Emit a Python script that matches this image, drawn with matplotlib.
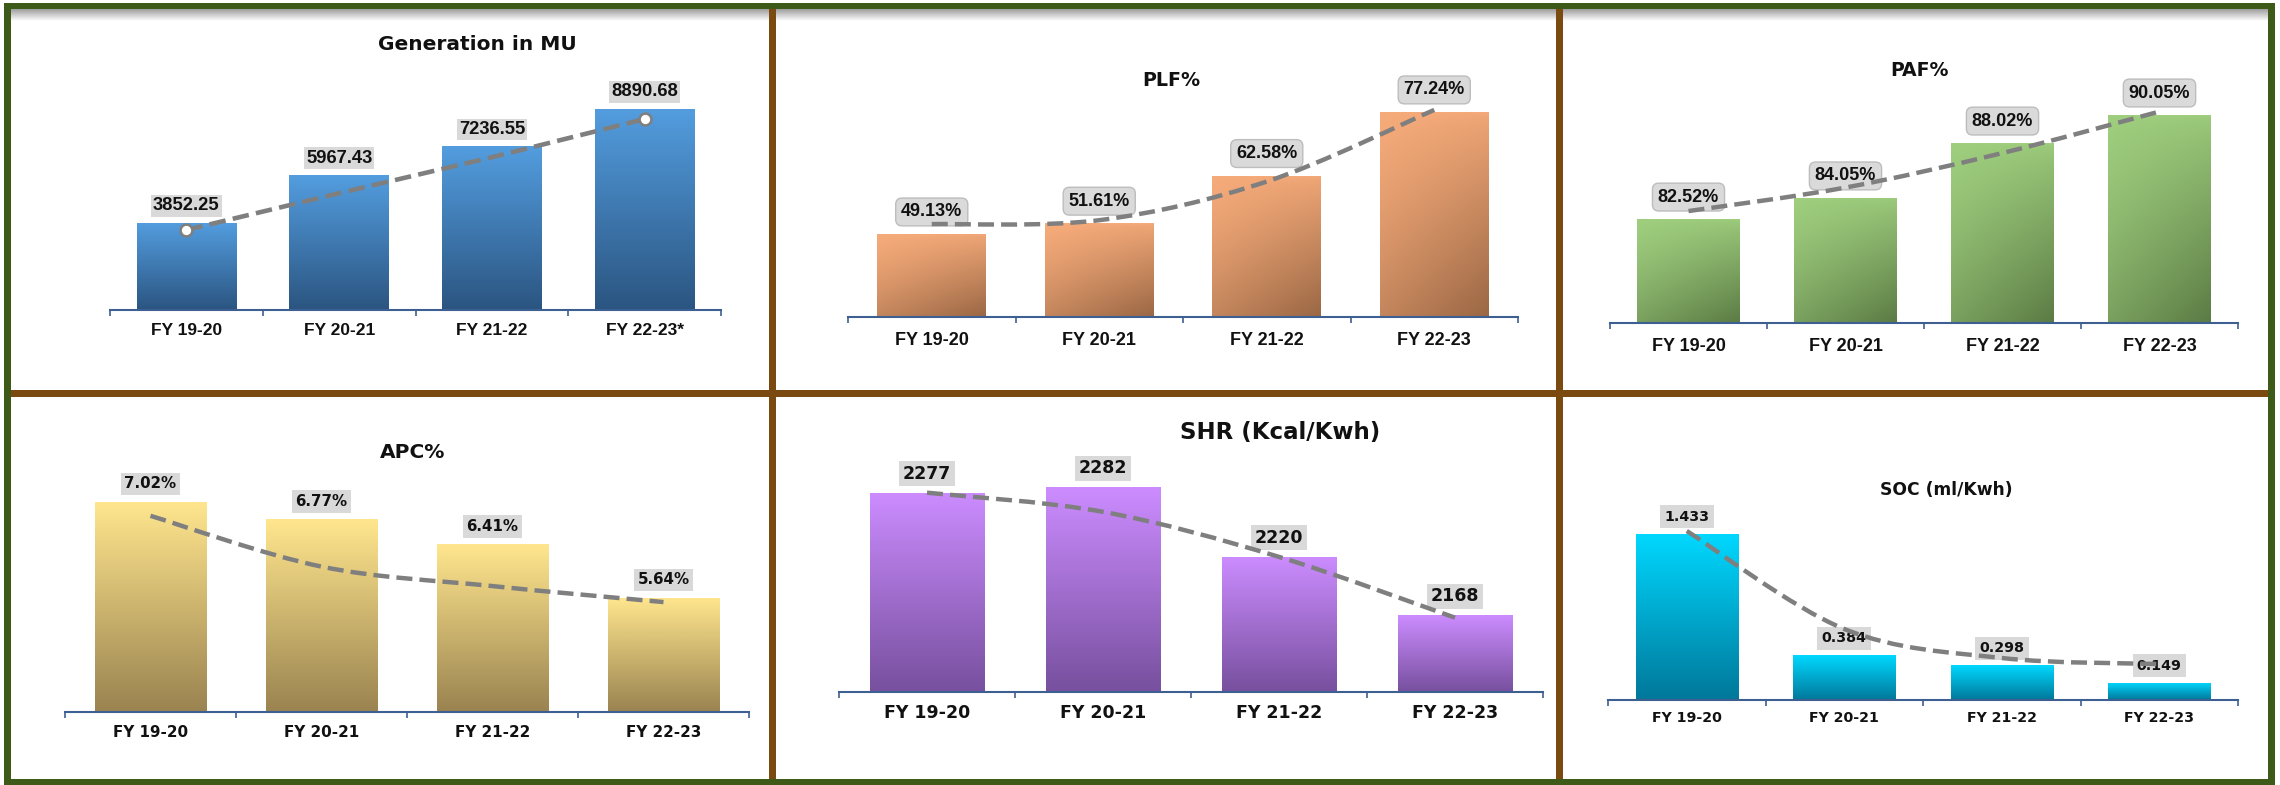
import numpy as np
import matplotlib.pyplot as plt
from matplotlib.path import Path
from matplotlib.patches import PathPatch, Rectangle
from matplotlib.colors import to_rgb

W, H = 2280, 785

# categories
years = ['FY 19-20', 'FY 20-21', 'FY 21-22', 'FY 22-23']
years_gen = ['FY 19-20', 'FY 20-21', 'FY 21-22', 'FY 22-23*']

# bar values and the dashed trend series drawn over them
generation = [3852.25, 5967.43, 7236.55, 8890.68]
generation_trend = [3540, 5165, 6755, 8445]
plf = [49.13, 51.61, 62.58, 77.24]
plf_trend = [51.4, 52.3, 61.2, 77.7]
paf = [82.52, 84.05, 88.02, 90.05]
paf_trend = [83.1, 84.8, 87.3, 90.3]
apc = [7.02, 6.77, 6.41, 5.64]
apc_trend = [6.82, 6.09, 5.81, 5.58]
shr = [2277, 2282, 2220, 2168]
shr_trend = [2277, 2260, 2220, 2166]
soc = [1.433, 0.384, 0.298, 0.149]
soc_trend = [1.457, 0.612, 0.362, 0.31]

NARROW = ['Liberation Sans', 'DejaVu Sans']
DEJA = ['DejaVu Sans']
TITLE = ['DejaVu Sans']
AXIS_COL = '#3e5f91'
LINE_COL = '#7f7f7f'

fig = plt.figure(figsize=(W / 100, H / 100), dpi=100)
fig.patch.set_facecolor('white')


def rect(l, r, t, b):
    return [l / W, 1 - b / H, (r - l) / W, (b - t) / H]


def smooth_path(xs, ys):
    # Catmull-Rom curve through the points, written as cubic Beziers
    pts = np.column_stack([xs, ys]).astype(float)
    ext = np.vstack([pts[0], pts, pts[-1]])
    verts = [pts[0]]
    codes = [Path.MOVETO]
    for i in range(len(pts) - 1):
        p0, p1, p2, p3 = ext[i], ext[i + 1], ext[i + 2], ext[i + 3]
        verts += [p1 + (p2 - p0) / 6, p2 - (p3 - p1) / 6, p2]
        codes += [Path.CURVE4] * 3
    return Path(verts, codes)


def gradient_bar(ax, bar, c_top, c_bot, y0, diagonal):
    n = 120
    tv = np.linspace(0, 1, n)[:, None]
    if diagonal:
        th = np.linspace(0, 1, n)[None, :]
        t = np.clip(0.55 * tv ** 1.3 + 0.45 * th * tv ** 0.5, 0, 1)
    else:
        t = np.repeat(tv, 2, axis=1)
    top = np.array(to_rgb(c_top))
    bot = np.array(to_rgb(c_bot))
    img = top + (bot - top) * t[..., None]
    x, w = bar.get_x(), bar.get_width()
    h_top = bar.get_y() + bar.get_height()
    im = ax.imshow(img, extent=[x, x + w, y0, h_top], origin='upper',
                   aspect='auto', interpolation='bilinear', zorder=2)
    im.set_clip_path(bar)


def panel(vals, trend, cats, title, box, ylim, title_xy, c_top, c_bot,
          fmt, off_px, font, vfs, cfs, tfs, cat_off, diagonal=False,
          rounded=False, pad=0.15, straight=False):
    l, r, t, b = box
    ax = fig.add_axes(rect(l, r, t, b))
    ax.set_facecolor('none')
    x = np.arange(len(vals))
    bars = ax.bar(x, vals, width=0.65, color='none', edgecolor='none')
    for bar in bars:
        gradient_bar(ax, bar, c_top, c_bot, ylim[0], diagonal)

    if straight:
        ax.plot(x, trend, color=LINE_COL, lw=3.3, ls=(0, (3.6, 1.6)),
                dash_capstyle='butt', zorder=6)
        ax.plot([x[0], x[-1]], [trend[0], trend[-1]], 'o', ms=8.5,
                mfc='white', mec=LINE_COL, mew=1.8, zorder=7)
    else:
        ax.add_patch(PathPatch(smooth_path(x, trend), fill=False,
                               ec=LINE_COL, lw=3.2, ls=(0, (3.6, 1.6)),
                               capstyle='butt', zorder=6))

    if rounded:
        bbox = dict(boxstyle=f'round,pad={pad},rounding_size=0.35',
                    fc='#dadada', ec='#bdbdbd', lw=1)
    else:
        bbox = dict(boxstyle=f'square,pad={pad}', fc='#d9d9d9', ec='none')
    for xi, v in zip(x, vals):
        ax.annotate(fmt.format(v), (xi, v), xytext=(0, off_px * 0.72),
                    textcoords='offset points', ha='center', va='center',
                    fontsize=vfs, fontweight='bold', family=font,
                    color='#111111', bbox=bbox, zorder=5)

    ax.set_xlim(-0.5, len(vals) - 0.5)
    ax.set_ylim(*ylim)
    for s in ('left', 'right', 'top'):
        ax.spines[s].set_visible(False)
    ax.spines['bottom'].set_color(AXIS_COL)
    ax.spines['bottom'].set_linewidth(1.5)
    ax.set_yticks([])
    ax.set_xticks(np.arange(len(vals) + 1) - 0.5)
    ax.set_xticklabels([])
    ax.tick_params(axis='x', which='major', length=4.5, width=1.2,
                   color=AXIS_COL)
    ax.set_xticks(x, minor=True)
    ax.set_xticklabels(cats, minor=True, fontsize=cfs, fontweight='bold',
                       family=font, color='#111111')
    ax.tick_params(axis='x', which='minor', length=0,
                   pad=(cat_off - cfs * 0.75) * 0.72)

    fig.text(title_xy[0] / W, 1 - title_xy[1] / H, title, ha='center',
             va='center', fontsize=tfs, fontweight='bold', family=TITLE,
             color='#111111')
    return ax


# frame: outer green border, brown dividers, shadow under the top edge
bg = fig.add_axes([0, 0, 1, 1], zorder=-5)
bg.set_xlim(0, W)
bg.set_ylim(H, 0)
bg.axis('off')
shade = np.linspace(0.62, 1.0, 40)[:, None, None] * np.ones((1, 2, 3))
bg.imshow(shade, extent=[10, 2268, 21, 9], origin='upper', aspect='auto',
          interpolation='bilinear')
green = '#3d5a18'
brown = '#7b4a10'
for (x0, y0, w, h, c) in [(4, 3, 7, 782, green), (4, 3, 2271, 6, green),
                          (2268, 3, 7, 782, green), (4, 779, 2271, 6, green),
                          (769, 9, 7, 770, brown), (1556, 9, 7, 770, brown),
                          (11, 390, 2257, 7, brown)]:
    bg.add_patch(Rectangle((x0, y0), w, h, fc=c, ec='none', zorder=3))
bg.set_xlim(0, W)
bg.set_ylim(H, 0)

panel(generation, generation_trend, years_gen, 'Generation in MU',
      (110, 721, 60, 310), (0, 11057), (477, 45), '#539ddf', '#2b5581',
      '{:.2f}', 17, NARROW, 13.2, 12.5, 14.5, 22, pad=0.12, straight=True)
panel(plf, plf_trend, years, 'PLF%', (848, 1518, 60, 317), (30, 89.2),
      (1171, 80), '#f6ab7a', '#9a6744', '{:.2f}%', 22, NARROW, 13, 13, 13.7,
      25, diagonal=True, rounded=True, pad=0.3)
panel(paf, paf_trend, years, 'PAF%', (1610, 2238, 60, 323), (75, 94.03),
      (1920, 70), '#9fce7e', '#5b7b44', '{:.2f}%', 22, NARROW, 13, 13, 13.6,
      25, diagonal=True, rounded=True, pad=0.3)
panel(apc, apc_trend, years, 'APC%', (65, 749, 440, 712), (4, 7.91),
      (413, 452), '#ffe68e', '#9a8350', '{:.2f}%', 18, DEJA, 10.8, 10.9,
      14.5, 21, pad=0.25)
panel(shr, shr_trend, years, 'SHR (Kcal/Kwh)', (839, 1543, 440, 692),
      (2100, 2323.8), (1280, 433), '#cc8cff', '#77509e', '{:d}', 19, DEJA,
      12.5, 12.5, 16.5, 21, pad=0.2)
panel(soc, soc_trend, years, 'SOC (ml/Kwh)', (1608, 2238, 440, 700),
      (0, 2.241), (1946, 490), '#00d8ff', '#00789a', '{:.3f}', 17, DEJA,
      10.3, 10.2, 12.3, 19, pad=0.3)

fig.savefig('out.png', dpi=100)
